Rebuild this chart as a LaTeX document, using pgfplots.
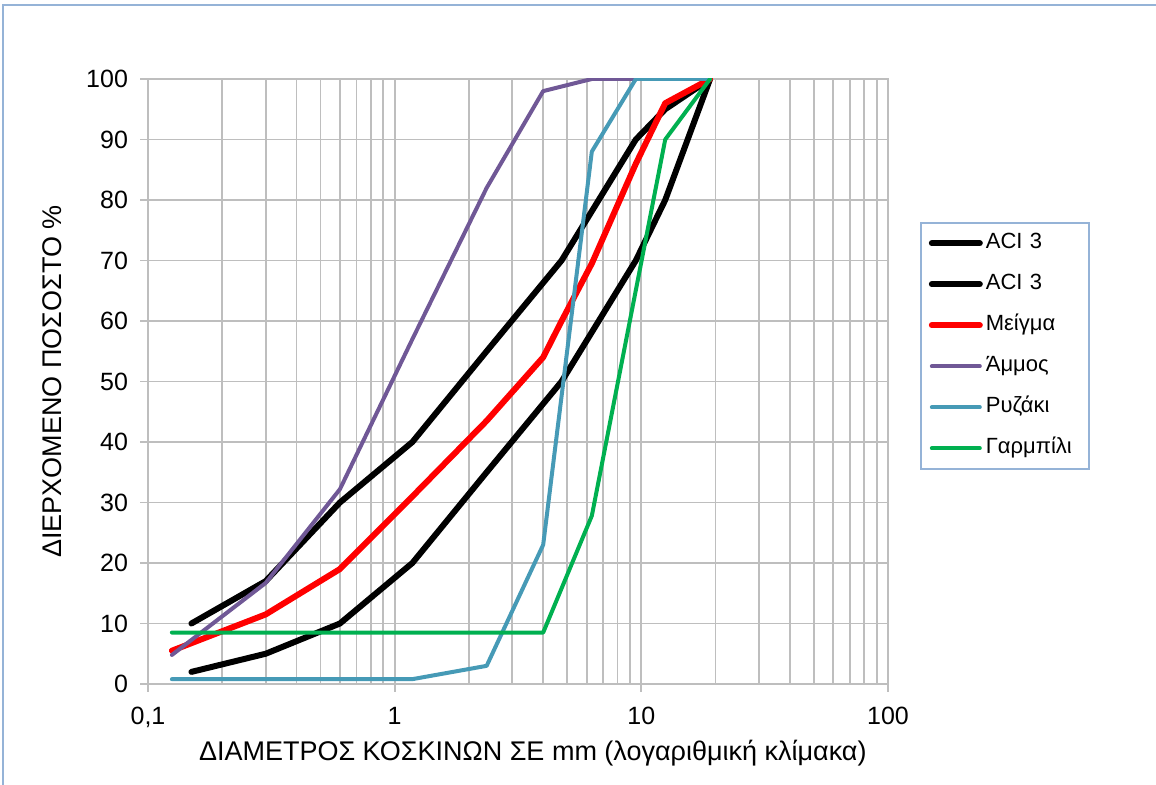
\documentclass[border=0pt]{standalone}
\usepackage{fontspec}
\setmainfont{Liberation Sans}
\usepackage{pgfplots}
\pgfplotsset{compat=1.18}
\definecolor{gridc}{RGB}{190,190,190}
\definecolor{legc}{RGB}{149,179,215}
\definecolor{mred}{RGB}{255,0,0}
\definecolor{mpurple}{RGB}{112,88,150}
\definecolor{mblue}{RGB}{70,154,182}
\definecolor{mgreen}{RGB}{0,176,80}
\pgfplotsset{mylegimg/.style={legend image code/.code={\draw[#1,line cap=round] (0pt,0pt) -- (24pt,0pt);}}}
\begin{document}
\begin{tikzpicture}
\path[use as bounding box] (-74pt,-50.5pt) rectangle (504pt,342pt);
\draw[legc,line width=1pt] (-72.35pt,-51pt) -- (-72.35pt,339.35pt) -- (505pt,339.35pt);
\begin{axis}[
  at={(0,0)}, anchor=south west,
  scale only axis, width=370pt, height=302.5pt,
  xmode=log, xmin=0.1, xmax=100, ymin=0, ymax=100,
  xtick={0.1,1,10,100}, xticklabels={{0,1},1,10,100},
  minor xtick={0.2,0.3,0.4,0.5,0.6,0.7,0.8,0.9,2,3,4,5,6,7,8,9,20,30,40,50,60,70,80,90},
  ytick={0,10,...,100},
  grid=both,
  major grid style={gridc,line width=0.9pt},
  minor grid style={gridc,line width=0.9pt},
  axis line style={gridc,line width=0.9pt},
  tick style={gridc,line width=0.9pt},
  tick align=outside, major tick length=4pt, minor tick length=0pt,
  tick pos=left,
  /pgf/number format/assume math mode=true,
  ticklabel style={font=\fontsize{12.5}{14}\selectfont},
  yticklabel style={xshift=-2.5pt},
  xticklabel style={yshift=-4pt},
  xlabel={ΔΙΑΜΕΤΡΟΣ ΚΟΣΚΙΝΩΝ ΣΕ mm (λογαριθμική κλίμακα)},
  ylabel={ΔΙΕΡΧΟΜΕΝΟ ΠΟΣΟΣΤΟ \%},
  label style={font=\fontsize{13.5}{15}\selectfont},
  xlabel style={at={(axis description cs:0.520,-0.114)},anchor=center},
  ylabel style={at={(axis description cs:-0.1297,0.5)},anchor=center},
  every axis plot/.append style={line cap=round,line join=round,mylegimg},
  legend style={at={(rel axis cs:1.043,0.764)}, anchor=north west,
    draw=legc, line width=1pt, font=\fontsize{11}{12}\selectfont,
    inner xsep=4pt, inner ysep=4pt, row sep=8pt,
    nodes={text height=7.5pt,text depth=2pt,inner sep=1.5pt,text width=46pt}},
  legend cell align=left,
]
\addplot[black,line width=3pt] coordinates {(0.15,10) (0.3,17) (0.6,30) (1.18,40) (2.36,55) (4.75,70) (9.5,90) (12.5,95) (19,100)};
\addlegendentry{ACI 3}
\addplot[black,line width=3pt] coordinates {(0.15,2) (0.3,5) (0.6,10) (1.18,20) (2.36,35) (4.75,50) (9.5,70) (12.5,80) (19,100)};
\addlegendentry{ACI 3}
\addplot[mred,line width=3pt] coordinates {(0.125,5.5) (0.3,11.5) (0.6,19) (1.18,31) (2.36,43.5) (4,54) (4.75,60) (6.3,69.5) (9.5,86) (12.5,96) (19,100)};
\addlegendentry{Μείγμα}
\addplot[mpurple,line width=2pt] coordinates {(0.125,4.8) (0.3,16.7) (0.6,32.2) (1.18,57) (2.36,82) (4,98) (6.3,100) (9.5,100) (12.5,100) (19,100)};
\addlegendentry{Άμμος}
\addplot[mblue,line width=2pt] coordinates {(0.125,0.8) (0.3,0.8) (0.6,0.8) (1.18,0.8) (2.36,3) (4,23) (6.3,88) (9.5,100) (12.5,100) (19,100)};
\addlegendentry{Ρυζάκι}
\addplot[mgreen,line width=2pt] coordinates {(0.125,8.5) (0.3,8.5) (0.6,8.5) (1.18,8.5) (2.36,8.5) (4,8.5) (6.3,27.8) (12.5,90) (19,100)};
\addlegendentry{Γαρμπίλι}
\end{axis}
\end{tikzpicture}
\end{document}
